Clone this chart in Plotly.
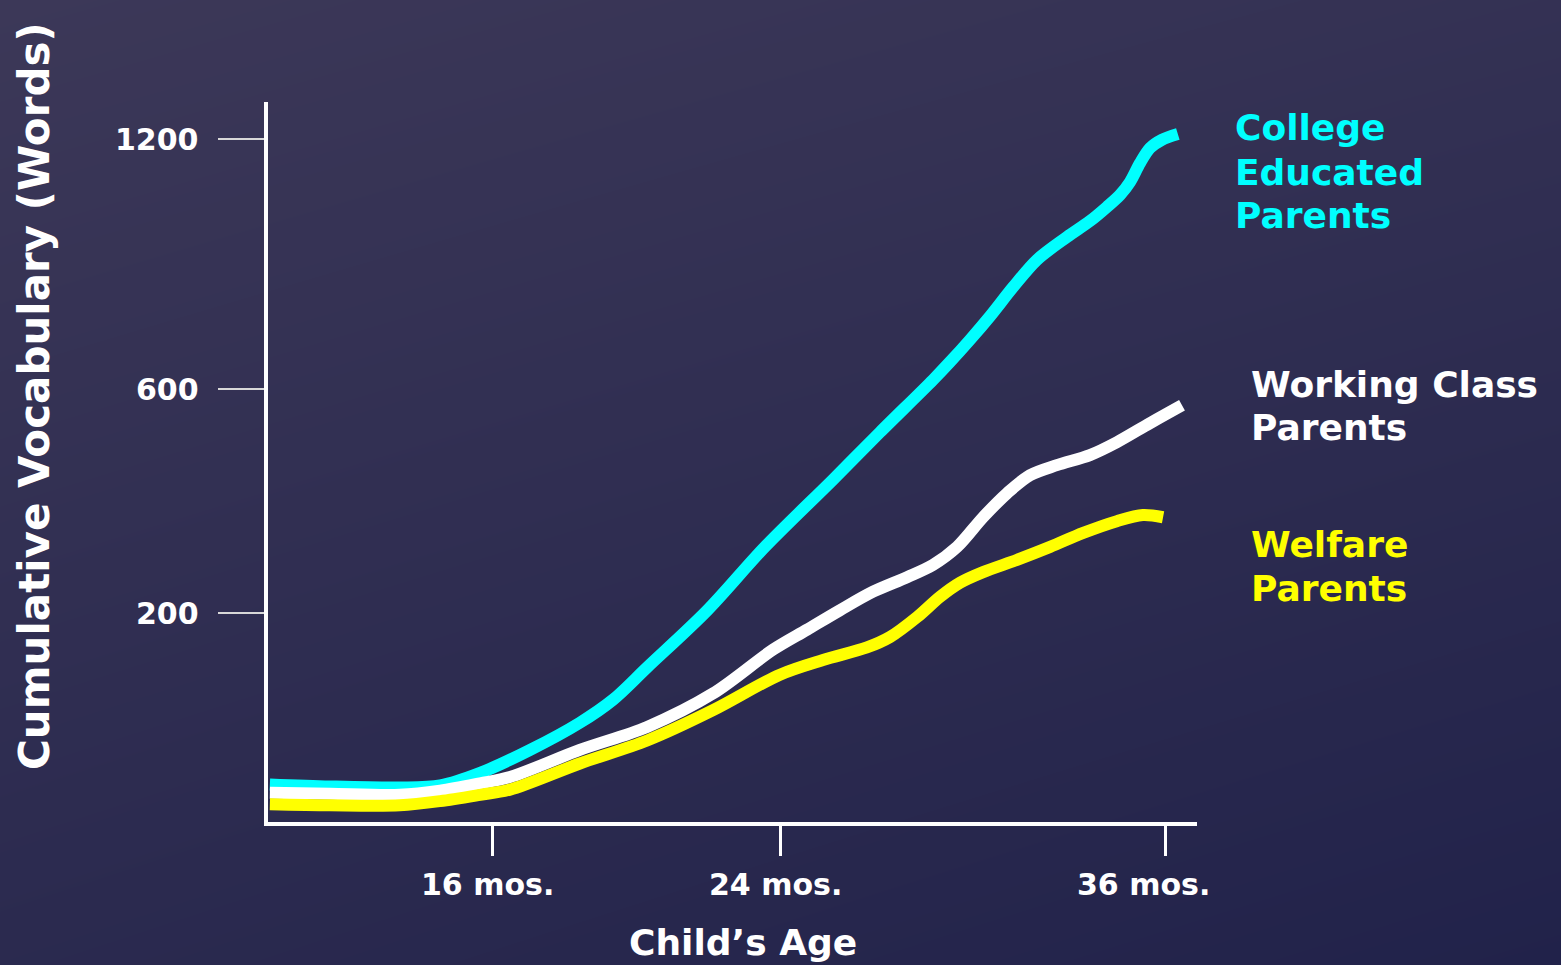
import numpy as np
import plotly.graph_objects as go

# ---------------- data ----------------
college_months = [9.83, 11.5, 13.44, 14.56, 15.67, 17.06, 18.44, 19.36, 20.31, 21.97,
                  23.58, 25.65, 27.12, 28.77, 29.30, 29.92, 30.55, 31.27, 32.01, 32.95, 33.66,
                  34.19, 34.60, 34.91, 35.22, 35.53, 35.90, 36.40]
college_words = [36, 34, 33, 35, 47, 69, 95, 117, 148, 204,
                 318, 438, 523, 622, 665, 718, 775, 845, 910, 965, 1003,
                 1037, 1066, 1097, 1142, 1178, 1198, 1212]

working_months = [9.83, 11.5, 13.44, 14.56, 15.67, 16.5, 18.44, 20.31, 22.14, 23.81, 24.84,
                  25.87, 26.90, 27.96, 28.77, 29.52, 30.33, 31.08, 31.79, 32.63,
                  33.66, 34.50, 35.53, 36.53]
working_words = [28, 27, 26, 30, 37, 43, 69, 91, 123, 165, 184,
                 205, 238, 264, 286, 318, 371, 414, 446, 464,
                 482, 505, 539, 571]

welfare_months = [9.83, 11.5, 13.44, 14.56, 15.67, 16.5, 18.44, 20.31, 22.14, 24.0,
                  25.34, 26.71, 27.43, 28.27, 28.99, 29.61, 30.33, 31.39, 32.42, 33.45,
                  34.50, 35.31, 35.94]
welfare_words = [17, 16, 16, 20, 26, 31, 56, 78, 107, 141,
                 155, 167, 177, 196, 229, 254, 273, 295, 318, 343,
                 364, 375, 371]

y_tick_words = [200, 600, 1200]
y_tick_labels = ["200", "600", "1200"]
x_tick_months = [16, 24, 36]
x_tick_labels = ["16 mos.", "24 mos.", "36 mos."]

# ---------------- the chart's own (non-linear) scales ----------------
X_ANCHOR_MONTHS = [9, 16, 24, 36, 37]
X_ANCHOR_POS = [240, 492, 780, 1165, 1197.08]
Y_ANCHOR_WORDS = [0, 200, 600, 1200, 1400]
Y_ANCHOR_POS = [0, 209, 433, 683, 766.3]


def sx(m):
    return np.interp(np.asarray(m, dtype=float), X_ANCHOR_MONTHS, X_ANCHOR_POS)


def sy(w):
    return np.interp(np.asarray(w, dtype=float), Y_ANCHOR_WORDS, Y_ANCHOR_POS)


W, H = 1561, 965
FONT = "DejaVu Sans"

fig = go.Figure()

# background gradient (full-page heatmap on its own hidden axes)
fig.add_trace(go.Heatmap(
    x=[0, 1], y=[0, 1], z=[[0.35, 0.0], [1.0, 0.7]],
    colorscale=[[0, "#21224a"], [1, "#3c3858"]],
    zsmooth="best", showscale=False, hoverinfo="skip",
    xaxis="x", yaxis="y"))

series = [
    (college_months, college_words, "#00ffff"),
    (working_months, working_words, "#ffffff"),
    (welfare_months, welfare_words, "#ffff00"),
]
for m, w, c in series:
    fig.add_trace(go.Scatter(
        x=sx(m), y=sy(w), mode="lines",
        line=dict(color=c, width=12, shape="spline", smoothing=0.9),
        xaxis="x2", yaxis="y2", hoverinfo="skip", showlegend=False))

x0, x1 = 268, 1197
ytop, ybot = 102, 822

fig.update_layout(
    width=W, height=H,
    margin=dict(l=0, r=0, t=0, b=0),
    paper_bgcolor="#2a2a4e",
    plot_bgcolor="rgba(0,0,0,0)",
    showlegend=False,
    xaxis=dict(domain=[0, 1], range=[0, 1], visible=False, fixedrange=True),
    yaxis=dict(domain=[0, 1], range=[0, 1], visible=False, fixedrange=True),
    xaxis2=dict(domain=[x0 / W, x1 / W], range=[x0, x1], anchor="y2",
                showgrid=False, zeroline=False, showline=True, linecolor="white", linewidth=4,
                ticks="outside", ticklen=30, tickwidth=3, tickcolor="white",
                tickvals=list(sx(x_tick_months)), showticklabels=False),
    yaxis2=dict(domain=[(H - ybot) / H, (H - ytop) / H], range=[0, ybot - ytop], anchor="x2",
                showgrid=False, zeroline=False, showline=True, linecolor="white", linewidth=4,
                ticks="outside", ticklen=46, tickwidth=2, tickcolor="#d8d8d8",
                tickvals=list(sy(y_tick_words)), showticklabels=False),
)

ann = []
# y tick labels
for v, t in zip(y_tick_words, y_tick_labels):
    ann.append(dict(text=t, xref="paper", x=201 / W, xanchor="right",
                    yref="y2", y=float(sy(v)), yanchor="middle", showarrow=False,
                    font=dict(family=FONT, size=30, color="white", weight="bold")))
# x tick labels
for v, t, dx in zip(x_tick_months, x_tick_labels, [-5, -5, -22]):
    ann.append(dict(text=t, xref="x2", x=float(sx(v)), xshift=dx, xanchor="center",
                    yref="paper", y=1 - 884 / H, yanchor="middle", showarrow=False,
                    font=dict(family=FONT, size=30, color="white", weight="bold")))
# axis titles
ann.append(dict(text="Child’s Age", xref="paper", x=743 / W, xanchor="center",
                yref="paper", y=1 - 942 / H, yanchor="middle", showarrow=False,
                font=dict(family=FONT, size=36, color="white", weight="bold")))
ann.append(dict(text="Cumulative Vocabulary (Words)", textangle=-90,
                xref="paper", x=35 / W, xanchor="center",
                yref="paper", y=1 - 396 / H, yanchor="middle", showarrow=False,
                font=dict(family=FONT, size=42, color="white", weight="bold")))
# series labels
labels = [
    (["College", "Educated", "Parents"], 1233, 128, "#00ffff"),
    (["Working Class", "Parents"], 1249, 384, "#ffffff"),
    (["Welfare", "Parents"], 1249, 544, "#ffff00"),
]
for lines, lx, ly, col in labels:
    for i, s in enumerate(lines):
        ann.append(dict(text=s, xref="paper", x=lx / W, xanchor="left",
                        yref="paper", y=1 - (ly + 44 * i) / H, yanchor="middle",
                        showarrow=False,
                        font=dict(family=FONT, size=36, color=col, weight="bold")))

fig.update_layout(annotations=ann)
fig.write_html("out.html")
